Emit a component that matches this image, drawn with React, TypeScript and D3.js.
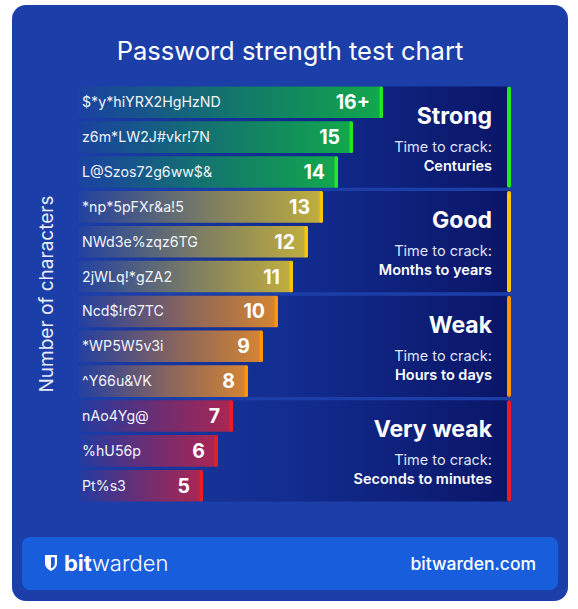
import React from "react";
import * as d3 from "d3";

const passwords = [
  "$*y*hiYRX2HgHzND", "z6m*LW2J#vkr!7N", "L@Szos72g6ww$&",
  "*np*5pFXr&a!5", "NWd3e%zqz6TG", "2jWLq!*gZA2",
  "Ncd$!r67TC", "*WP5W5v3i", "^Y66u&VK",
  "nAo4Yg@", "%hU56p", "Pt%s3",
];
const valueLabels = ["16+", "15", "14", "13", "12", "11", "10", "9", "8", "7", "6", "5"];
const barLengths = [17, 15, 14, 13, 12, 11, 10, 9, 8, 7, 6, 5];
const groupNames = ["Strong", "Good", "Weak", "Very weak"];
const crackTimes = ["Centuries", "Months to years", "Hours to days", "Seconds to minutes"];
const barColors = ["#12b04a", "#cbb63a", "#e08a2e", "#b3264f"];
const stripeColors = ["#22e81e", "#f7c600", "#ff9300", "#ec1c24"];

const W = 578;
const H = 609;
const FONT = "Inter, 'DejaVu Sans', sans-serif";

export default function App() {
  const plotLeft = 78;
  const panelRight = 511;
  const x = d3.scaleLinear().domain([0, 17]).range([128, 383]);
  const y = d3
    .scaleBand<number>()
    .domain(d3.range(passwords.length))
    .range([86.5, 501.5])
    .paddingInner(0.095)
    .paddingOuter(0);
  const bw = y.bandwidth();

  return (
    <svg
      width={W}
      height={H}
      style={{ position: "absolute", left: 0, top: 0 }}
      fontFamily={FONT}
    >
      <defs>
        <linearGradient id="panelGrad" x1="0" x2="1" y1="0" y2="0">
          <stop offset="0" stopColor="#1b3da6" />
          <stop offset="0.55" stopColor="#112a8c" />
          <stop offset="1" stopColor="#0a1566" />
        </linearGradient>
        {barColors.map((c, i) => (
          <linearGradient key={i} id={`barGrad${i}`} x1="0" x2="1" y1="0" y2="0">
            <stop offset="0" stopColor={c} stopOpacity={0.04} />
            <stop offset="0.55" stopColor={c} stopOpacity={0.58} />
            <stop offset="1" stopColor={c} stopOpacity={0.95} />
          </linearGradient>
        ))}
      </defs>

      <rect x={12} y={5} width={556} height={596} rx={14} fill="#1b3ea8" />

      <text
        x={290}
        y={60}
        textAnchor="middle"
        fill="#ffffff"
        fontSize={25.5}
        fontWeight={400}
      >
        Password strength test chart
      </text>

      <text
        transform={`translate(53,${(86.5 + 501.5) / 2}) rotate(-90)`}
        textAnchor="middle"
        fill="#e6ebf7"
        fontSize={19}
      >
        Number of characters
      </text>

      {groupNames.map((g, gi) => {
        const top = y(gi * 3)!;
        const bottom = y(gi * 3 + 2)! + bw;
        return (
          <g key={g}>
            <rect
              x={plotLeft}
              y={top}
              width={panelRight - plotLeft}
              height={bottom - top}
              rx={3}
              fill="url(#panelGrad)"
            />
            <rect
              x={panelRight - 4}
              y={top}
              width={4}
              height={bottom - top}
              rx={2}
              fill={stripeColors[gi]}
            />
            <text
              x={492}
              y={top + 37}
              textAnchor="end"
              fill="#ffffff"
              fontSize={23}
              fontWeight={700}
            >
              {g}
            </text>
            <text
              x={492}
              y={top + 65}
              textAnchor="end"
              fill="#dfe5f5"
              fontSize={14.5}
              fontWeight={400}
            >
              Time to crack:
            </text>
            <text
              x={492}
              y={top + 84}
              textAnchor="end"
              fill="#ffffff"
              fontSize={14.5}
              fontWeight={600}
            >
              {crackTimes[gi]}
            </text>
          </g>
        );
      })}

      {passwords.map((p, i) => {
        const gi = Math.floor(i / 3);
        const yy = y(i)!;
        const x1 = x(barLengths[i]);
        return (
          <g key={p}>
            <rect
              x={plotLeft}
              y={yy}
              width={x1 - plotLeft}
              height={bw}
              rx={3}
              fill={`url(#barGrad${gi})`}
            />
            <rect
              x={x1 - 3.5}
              y={yy}
              width={3.5}
              height={bw}
              rx={1.5}
              fill={stripeColors[gi]}
            />
            <text
              x={82}
              y={yy + bw / 2}
              dy="0.35em"
              fill="#f2f4fb"
              fontSize={14.2}
            >
              {p}
            </text>
            <text
              x={x1 - 13}
              y={yy + bw / 2}
              dy="0.36em"
              textAnchor="end"
              fill="#ffffff"
              fontSize={19.5}
              fontWeight={700}
            >
              {valueLabels[i]}
            </text>
          </g>
        );
      })}

      <rect x={22} y={537} width={536} height={53} rx={8} fill="#175ddc" />
      <g transform="translate(45,555)">
        <path d="M0,0 H12 V8.5 C12,12.5 8,15 6,16 C4,15 0,12.5 0,8.5 Z" fill="#ffffff" />
        <path d="M6,2.2 H9.8 V8.5 C9.8,11 8,12.6 6,13.6 Z" fill="#175ddc" />
      </g>
      <text x={64} y={571} fill="#ffffff" fontSize={22}>
        <tspan fontWeight={700}>bit</tspan>
        <tspan fontWeight={300}>warden</tspan>
      </text>
      <text
        x={536}
        y={570}
        textAnchor="end"
        fill="#ffffff"
        fontSize={17.5}
        fontWeight={500}
      >
        bitwarden.com
      </text>
    </svg>
  );
}
